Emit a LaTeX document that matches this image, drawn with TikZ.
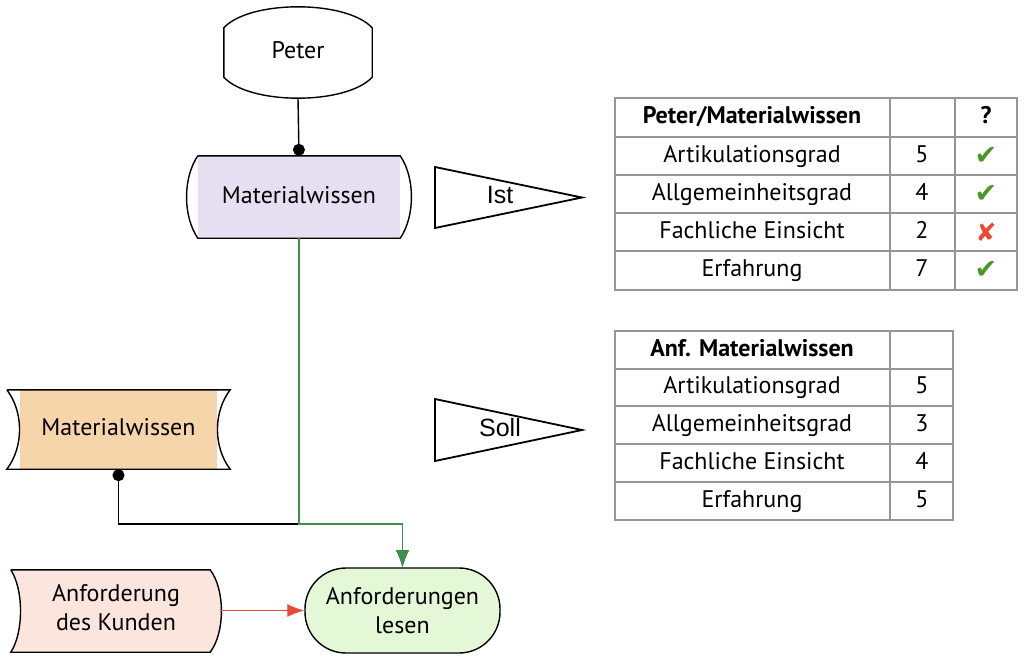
\documentclass[tikz,border=0pt]{standalone}
\usepackage{fontspec}
\setmainfont{PT Sans}
\newfontfamily\helv{Liberation Sans}
\newfontfamily\symb{DejaVu Sans}
\usetikzlibrary{arrows.meta,positioning,calc,backgrounds}

\definecolor{lila}{RGB}{230,223,242}
\definecolor{sand}{RGB}{247,213,171}
\definecolor{rosa}{RGB}{251,229,220}
\definecolor{hellgruen}{RGB}{228,248,216}
\definecolor{gruen}{RGB}{60,145,75}
\definecolor{rot}{RGB}{232,75,50}
\definecolor{rahmen}{RGB}{150,150,150}
\definecolor{haken}{RGB}{75,150,40}

\newcommand{\ja}{\textcolor{haken}{\symb\fontsize{27}{27}\selectfont ✔}}
\newcommand{\nein}{\textcolor{rot}{\symb\fontsize{25}{25}\selectfont ✘}}

\begin{document}
\begin{tikzpicture}[x=1pt, y=-1pt, font=\fontsize{24}{29}\selectfont,
      rand/.style={draw=black, line width=1.4pt},
      feld/.style={inner sep=0pt, align=center},
      zelle/.style={inner sep=0pt, text height=17pt, text depth=5pt},
      gitter/.style={draw=rahmen, line width=1.5pt},
      spitze/.style={-{Latex[length=17pt,width=13pt]}},
      fahne/.style={draw=black, line width=1.8pt},
      fahnetext/.style={font=\helv\fontsize{25}{28}\selectfont, zelle}]

    \useasboundingbox (0,0) rectangle (1024,659);

    \node[feld, zelle, minimum width=148pt, minimum height=91pt] (peter) at (298,52.5) {Peter};
    \draw[rand] ($(peter.north west)+(0,21)$) .. controls +(26,-28) and +(-26,-28) .. ($(peter.north east)+(0,21)$)
      -- ($(peter.south east)+(0,-21)$) .. controls +(-26,28) and +(26,28) .. ($(peter.south west)+(0,-21)$) -- cycle;

    \node[feld, zelle, fill=lila, minimum width=202pt, minimum height=82pt] (mw1) at (299,197) {Materialwissen};
    \draw[rand] (mw1.north west) -- (mw1.north east) .. controls +(15,22) and +(15,-22) .. (mw1.south east)
      -- (mw1.south west) .. controls +(-15,-22) and +(-15,22) .. (mw1.north west);

    \node[feld, zelle, fill=sand, minimum width=197pt, minimum height=79pt] (mw2) at (118.5,429.5) {Materialwissen};
    \draw[rand] ($(mw2.north west)+(-13,0)$) -- ($(mw2.north east)+(13,0)$)
      .. controls +(-17,22) and +(-17,-22) .. ($(mw2.south east)+(13,0)$)
      -- ($(mw2.south west)+(-13,0)$) .. controls +(17,-22) and +(17,22) .. ($(mw2.north west)+(-13,0)$);

    \node[feld, minimum width=210pt, minimum height=82pt] (kunde) at (116,608) {Anforderung\\des Kunden};
    \begin{scope}[on background layer]
      \draw[rand, fill=rosa] ($(kunde.north west)+(0,3)$) -- ($(kunde.north east)+(-11,3)$)
        .. controls +(15,20) and +(15,-20) .. ($(kunde.south east)+(-11,3)$)
        -- ($(kunde.south west)+(0,3)$) .. controls +(13,-20) and +(13,20) .. ($(kunde.north west)+(0,3)$);
    \end{scope}

    \node[feld, rand, fill=hellgruen, rounded corners=41pt, minimum width=195pt, minimum height=85pt] (lesen) at (402.5,610.5) {Anforderungen\\lesen};

    \coordinate (knick) at (402.5,524);
    \draw[line width=1.4pt, -{Circle[length=12pt]}] (peter.south) -- (mw1.north);
    \draw[line width=1.4pt, {Circle[length=12pt]}-{Latex[length=17pt,width=13pt]}] (mw2.south) |- (knick) -- (lesen.north);
    \draw[gruen, line width=1.3pt, spitze] (mw1.south) |- (knick) -- (lesen.north);
    \draw[rot, line width=1.3pt, spitze] (kunde.east |- lesen.west) -- (lesen.west);

    \draw[fahne] (435,167) -- (582,197.5) -- (435,228) -- cycle;
    \node[fahnetext] (ist) at (500,197) {Ist};
    \draw[fahne] (435,399) -- (582,430) -- (435,461) -- cycle;
    \node[fahnetext] (soll) at (500,430) {Soll};

    \foreach \y in {137,175,213,251} { \draw[gitter] (615,\y) -- (1017,\y); }
    \foreach \x in {890,955} { \draw[gitter] (\x,98) -- (\x,290); }
    \draw[gitter] (615,98) rectangle (1017,290);
    \node[zelle, font=\bfseries\fontsize{24}{29}\selectfont] (ist0) at (752,117) {Peter/Materialwissen};
    \node[zelle, font=\bfseries\fontsize{24}{29}\selectfont] (ist0m) at (986,117) {?};
    \foreach \name/\wert/\marke/\y [count=\i] in {Artikulationsgrad/5/\ja/156, Allgemeinheitsgrad/4/\ja/194,
        Fachliche Einsicht/2/\nein/232, Erfahrung/7/\ja/270} {
      \node[zelle] (ist\i) at (752,\y) {\name};
      \node[zelle] (ist\i w) at (922,\y) {\wert};
      \node[inner sep=0pt] (ist\i m) at (986,\y) {\marke};
    }

    \foreach \y in {369,406,444,482} { \draw[gitter] (615,\y) -- (953,\y); }
    \draw[gitter] (890,331) -- (890,520);
    \draw[gitter] (615,331) rectangle (953,520);
    \node[zelle, font=\bfseries\fontsize{24}{29}\selectfont] (soll0) at (752,350) {Anf. Materialwissen};
    \foreach \name/\wert/\y [count=\i] in {Artikulationsgrad/5/387.5, Allgemeinheitsgrad/3/425,
        Fachliche Einsicht/4/463, Erfahrung/5/501} {
      \node[zelle] (soll\i) at (752,\y) {\name};
      \node[zelle] (soll\i w) at (922,\y) {\wert};
    }
  \end{tikzpicture}
\end{document}
